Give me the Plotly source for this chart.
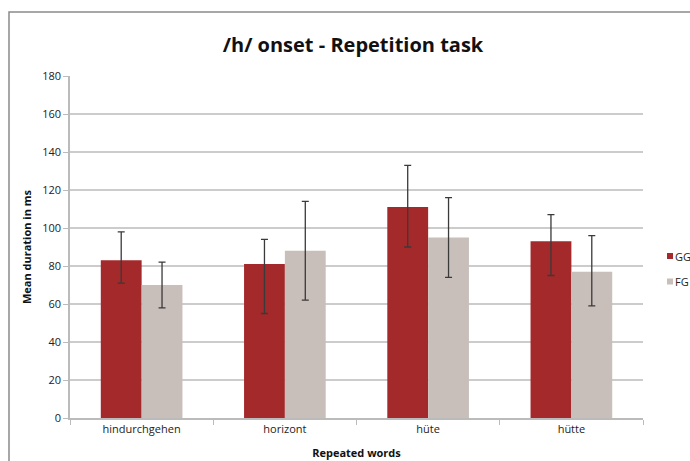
import plotly.graph_objects as go

categories = ["hindurchgehen", "horizont", "hüte", "hütte"]
series_names = ["GG", "FG"]
series_colors = ["#a3292a", "#c8bfba"]
gg_values = [83, 81, 111, 93]
gg_err_plus = [15, 13, 22, 14]
gg_err_minus = [12, 26, 21, 18]
fg_values = [70, 88, 95, 77]
fg_err_plus = [12, 26, 21, 19]
fg_err_minus = [12, 26, 21, 18]
y_ticks = [0, 20, 40, 60, 80, 100, 120, 140, 160, 180]

W, H = 690, 461
# plot area in figure pixels
L, T, R, B = 70, 76, 643, 418
PW, PH = R - L, B - T

def px(x):
    return (x - L) / PW

def py(y):
    return (B - y) / PH

err_style = dict(type="data", symmetric=False, color="#3a3a3a", thickness=1.3, width=3.5)

fig = go.Figure()
fig.add_trace(go.Bar(
    x=categories, y=gg_values, name=series_names[0],
    marker=dict(color=series_colors[0], line=dict(width=0)),
    error_y=dict(array=gg_err_plus, arrayminus=gg_err_minus, **err_style),
))
fig.add_trace(go.Bar(
    x=categories, y=fg_values, name=series_names[1],
    marker=dict(color=series_colors[1], line=dict(width=0)),
    error_y=dict(array=fg_err_plus, arrayminus=fg_err_minus, **err_style),
))

fig.update_layout(
    width=W, height=H,
    margin=dict(l=L, r=W - R, t=T, b=H - B, autoexpand=False),
    paper_bgcolor="white", plot_bgcolor="white",
    font=dict(family="Open Sans", size=11, color="#222"),
    title=dict(text="<b>/h/ onset - Repetition task</b>", x=353 / W, xanchor="center",
               y=1 - 45 / H, yanchor="middle",
               font=dict(family="Open Sans", size=20, color="#111")),
    barmode="group", bargap=0.43, bargroupgap=0,
    showlegend=False,
    xaxis=dict(
        type="category", showline=True, linecolor="#bbbbbb", linewidth=1.5,
        ticks="outside", tickson="boundaries", ticklen=5, tickcolor="#bbbbbb",
        tickfont=dict(size=11, color="#222"), automargin=False,
        title=dict(text="<b>Repeated words</b>", font=dict(size=11, color="#111"), standoff=14),
    ),
    yaxis=dict(
        range=[0, 180], tickvals=y_ticks, showgrid=True, gridcolor="#cccccc", gridwidth=1.5,
        showline=True, linecolor="#bbbbbb", linewidth=1.5,
        ticks="outside", ticklen=5, tickcolor="#bbbbbb", zeroline=False,
        tickfont=dict(size=11, color="#222"), automargin=False,
        title=dict(text="<b>Mean duration in ms</b>", font=dict(size=11, color="#111"), standoff=8),
    ),
)

# outer chart frame (partly cropped by the image border)
fig.add_shape(type="rect", xref="paper", yref="paper",
              x0=px(9), x1=px(W + 40), y0=py(H + 40), y1=py(12),
              line=dict(color="#8a8a8a", width=1.5), fillcolor="rgba(0,0,0,0)", layer="below")

# legend (drawn at the right edge, as in the original)
legend_y = [256, 281.5]
for name, color, ly in zip(series_names, series_colors, legend_y):
    fig.add_shape(type="rect", xref="paper", yref="paper",
                  x0=px(667), x1=px(673), y0=py(ly + 3), y1=py(ly - 3),
                  line=dict(width=0), fillcolor=color)
    fig.add_annotation(xref="paper", yref="paper", x=px(673), y=py(ly),
                       xanchor="left", yanchor="middle", showarrow=False,
                       text=name, font=dict(size=11, color="#222"))

fig.write_html(
    "out.html",
    config={"displayModeBar": False},
    post_script="document.body.style.margin='0';document.body.style.overflow='hidden';",
)
